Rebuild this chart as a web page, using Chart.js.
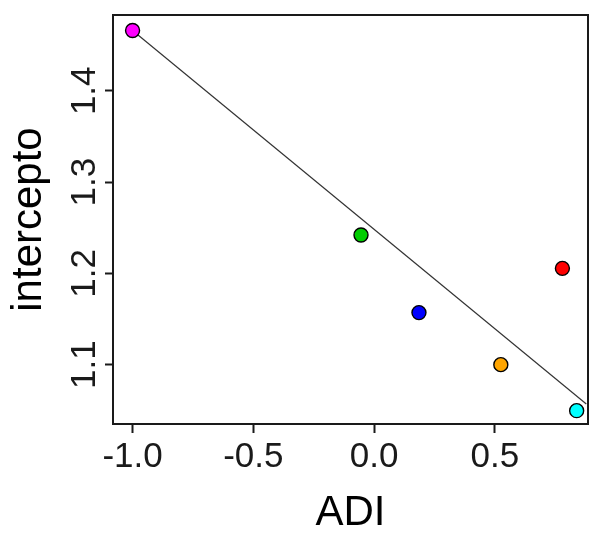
<!DOCTYPE html>
<html>
<head>
<meta charset="utf-8">
<script src="https://cdn.jsdelivr.net/npm/chart.js@4"></script>
<style>
html,body{margin:0;padding:0;background:#fff;}
#wrap{width:591px;height:533px;}
</style>
</head>
<body>
<div id="wrap"><canvas id="c" width="591" height="533"></canvas></div>
<script>
// Data
const adi = [-1.0, -0.054, 0.186, 0.780, 0.525, 0.839];
const intercepto = [1.466, 1.242, 1.157, 1.2055, 1.100, 1.0496];
const pointColors = ['#FF00FF', '#00CD00', '#0000FF', '#FF0000', '#FFA500', '#00FFFF'];
const lineX = [-1.0, 0.879];
const lineY = [1.466, 1.057];
const xTicks = [-1.0, -0.5, 0.0, 0.5];
const yTicks = [1.1, 1.2, 1.3, 1.4];
const xTitle = 'ADI';
const yTitle = 'intercepto';

const FONT = '"Liberation Sans", Arial, sans-serif';

const boxPlugin = {
  id: 'box',
  afterDraw(chart) {
    const {ctx, chartArea: a} = chart;
    ctx.save();
    ctx.strokeStyle = '#1a1a1a';
    ctx.lineWidth = 2;
    ctx.strokeRect(a.left, a.top, a.right - a.left, a.bottom - a.top);
    // rotated y tick labels
    const ys = chart.scales.y;
    ctx.fillStyle = '#1a1a1a';
    ctx.font = '35px ' + FONT;
    ctx.textAlign = 'center';
    ctx.textBaseline = 'alphabetic';
    yTicks.forEach(v => {
      const py = ys.getPixelForValue(v);
      ctx.save();
      ctx.translate(95, py);
      ctx.rotate(-Math.PI / 2);
      ctx.fillText(v.toFixed(1), 0, 0);
      ctx.restore();
    });
    ctx.restore();
  }
};

new Chart(document.getElementById('c'), {
  type: 'scatter',
  data: {
    datasets: [
      {
        type: 'scatter',
        order: 0,
        data: adi.map((x, i) => ({x, y: intercepto[i]})),
        backgroundColor: pointColors,
        borderColor: '#000',
        borderWidth: 1.4,
        pointRadius: 7,
        pointHoverRadius: 7
      },
      {
        type: 'line',
        order: 1,
        data: lineX.map((x, i) => ({x, y: lineY[i]})),
        borderColor: '#333',
        borderWidth: 1.2,
        pointRadius: 0,
        fill: false
      }
    ]
  },
  plugins: [boxPlugin],
  options: {
    responsive: false,
    animation: false,
    events: [],
    layout: {autoPadding: false, padding: {top: 15, right: 3, left: 0, bottom: 0}},
    plugins: {legend: {display: false}, tooltip: {enabled: false}},
    scales: {
      x: {
        type: 'linear',
        min: -1.081,
        max: 0.886,
        afterBuildTicks: s => { s.ticks = xTicks.map(v => ({value: v})); },
        afterFit: s => { s.height = 109; s.paddingLeft = 0; s.paddingRight = 0; },
        border: {display: false},
        grid: {drawOnChartArea: false, drawTicks: true, tickLength: 9, tickWidth: 2, tickColor: '#1a1a1a'},
        ticks: {
          color: '#1a1a1a',
          font: {family: FONT, size: 35},
          padding: 3,
          maxRotation: 0,
          minRotation: 0,
          autoSkip: false,
          callback: v => Number(v).toFixed(1)
        },
        title: {display: true, text: xTitle, color: '#000', font: {family: FONT, size: 42, lineHeight: 1}, padding: {top: 0, bottom: -1}}
      },
      y: {
        type: 'linear',
        min: 1.035,
        max: 1.483,
        afterBuildTicks: s => { s.ticks = yTicks.map(v => ({value: v})); },
        afterFit: s => { s.width = 113; s.paddingTop = 0; s.paddingBottom = 0; },
        border: {display: false},
        grid: {drawOnChartArea: false, drawTicks: true, tickLength: 8, tickWidth: 2, tickColor: '#1a1a1a'},
        ticks: {display: false},
        title: {display: true, text: yTitle, color: '#000', font: {family: FONT, size: 42, lineHeight: 1}, padding: {top: 8, bottom: 0}}
      }
    }
  }
});
</script>
</body>
</html>
